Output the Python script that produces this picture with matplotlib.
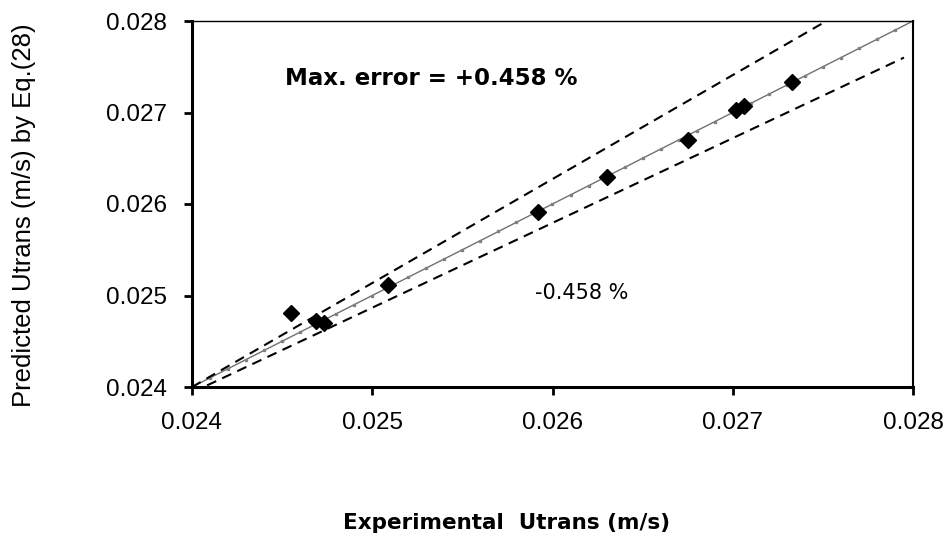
import numpy as np
import matplotlib.pyplot as plt

# experimental vs predicted Utrans (m/s)
u_exp = [0.02455, 0.02469, 0.02473, 0.02509, 0.02592, 0.02630, 0.02675, 0.02702, 0.02706, 0.02733]
u_pred = [0.02481, 0.02472, 0.02470, 0.02511, 0.02591, 0.02630, 0.02670, 0.02703, 0.02707, 0.02733]

# parity line and error band end points
parity_x = np.arange(0.0240, 0.02801, 0.0001)
upper_x = [0.0240, 0.02752]
upper_y = [0.0240, 0.0280]
lower_x = [0.0240, 0.02795]
lower_y = [0.02394, 0.02760]

ticks = [0.024, 0.025, 0.026, 0.027, 0.028]
tick_labels = ["0.024", "0.025", "0.026", "0.027", "0.028"]

fig = plt.figure(figsize=(9.53, 5.37), dpi=100)
ax = fig.add_axes([192/953, 1 - 387/537, 721/953, 366/537])

ax.plot(parity_x, parity_x, color="#707070", lw=1, marker="s", markersize=2,
        markerfacecolor="#808080", markeredgecolor="#808080", zorder=2)
ax.plot(upper_x, upper_y, color="black", lw=1.5, dashes=(4.8, 3.2), zorder=2)
ax.plot(lower_x, lower_y, color="black", lw=1.5, dashes=(4.8, 3.2), zorder=2)
ax.plot(u_exp, u_pred, linestyle="none", marker="D", markersize=8,
        color="black", zorder=3)

ax.set_xlim(0.024, 0.028)
ax.set_ylim(0.024, 0.028)
ax.set_xticks(ticks)
ax.set_xticklabels(tick_labels)
ax.set_yticks(ticks)
ax.set_yticklabels(tick_labels)

for lab in ax.get_xticklabels() + ax.get_yticklabels():
    lab.set_fontfamily("Liberation Sans")
    lab.set_fontsize(17.5)
ax.tick_params(axis="x", direction="out", length=6, width=2, pad=12)
ax.tick_params(axis="y", direction="out", length=6, width=2, pad=12)

ax.spines["left"].set_linewidth(2.2)
ax.spines["bottom"].set_linewidth(2.2)
ax.spines["top"].set_linewidth(1)
ax.spines["right"].set_linewidth(1.5)

ax.text(0.02533, 0.02737, "Max. error = +0.458 %", fontsize=16.5, fontweight="bold",
        family="DejaVu Sans", ha="center", va="center")
ax.text(0.02616, 0.02503, "-0.458 %", fontsize=15,
        family="DejaVu Sans", ha="center", va="center")

fig.text(24/953, 1 - 215/537, "Predicted Utrans (m/s) by Eq.(28)", rotation=90,
         fontsize=18.5, family="Liberation Sans", ha="center", va="center")
fig.text(507/953, 1 - 523/537, "Experimental  Utrans (m/s)", fontsize=15.5,
         fontweight="bold", family="DejaVu Sans", ha="center", va="center")

fig.savefig("out.png", dpi=100)
